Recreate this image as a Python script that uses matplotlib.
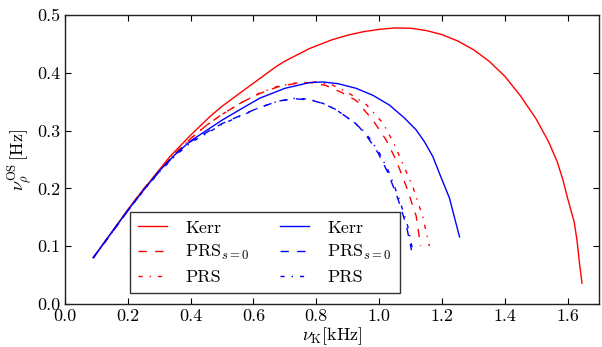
import matplotlib
matplotlib.use('Agg')
import matplotlib.pyplot as plt

# font settings (Computer Modern look)
plt.rcParams['font.family'] = 'serif'
plt.rcParams['font.serif'] = ['cmr10', 'DejaVu Serif']
plt.rcParams['mathtext.fontset'] = 'cm'
plt.rcParams['axes.formatter.use_mathtext'] = True
plt.rcParams['axes.unicode_minus'] = False

# data
kerr_red_x = [0.09, 0.15, 0.2, 0.228, 0.3, 0.334, 0.4, 0.461, 0.5, 0.55, 0.6, 0.673, 0.7,
              0.779, 0.85, 0.9, 0.95, 1.0, 1.05, 1.1, 1.15, 1.2, 1.25, 1.3, 1.35, 1.4,
              1.45, 1.5, 1.54, 1.567, 1.585, 1.599, 1.621, 1.63, 1.638, 1.646]
kerr_red_y = [0.08, 0.125, 0.163, 0.183, 0.232, 0.255, 0.292, 0.324, 0.342, 0.362, 0.382,
              0.411, 0.42, 0.442, 0.457, 0.465, 0.471, 0.475, 0.4775, 0.477, 0.473, 0.466,
              0.455, 0.44, 0.42, 0.394, 0.36, 0.32, 0.28, 0.246, 0.215, 0.185, 0.142,
              0.11, 0.07, 0.036]

prs0_red_x = [0.09, 0.15, 0.2, 0.25, 0.3, 0.35, 0.4, 0.45, 0.5, 0.567, 0.62, 0.68, 0.73,
              0.78, 0.83, 0.88, 0.927, 0.98, 1.022, 1.054, 1.086, 1.118, 1.132]
prs0_red_y = [0.08, 0.125, 0.163, 0.199, 0.231, 0.26, 0.286, 0.309, 0.328, 0.35, 0.364,
              0.376, 0.381, 0.383, 0.378, 0.366, 0.352, 0.318, 0.284, 0.249, 0.204, 0.152,
              0.10]

prs_red_x = [0.09, 0.15, 0.2, 0.25, 0.3, 0.35, 0.4, 0.45, 0.5, 0.567, 0.62, 0.68, 0.73,
             0.8, 0.85, 0.9, 0.959, 1.012, 1.045, 1.075, 1.107, 1.139, 1.16]
prs_red_y = [0.08, 0.125, 0.163, 0.199, 0.231, 0.26, 0.286, 0.309, 0.328, 0.35, 0.365,
             0.377, 0.382, 0.384, 0.379, 0.366, 0.345, 0.313, 0.28, 0.243, 0.203, 0.151,
             0.10]

kerr_blue_x = [0.09, 0.15, 0.2, 0.25, 0.3, 0.355, 0.4, 0.461, 0.5, 0.55, 0.62, 0.7, 0.779,
               0.821, 0.87, 0.927, 0.98, 1.033, 1.08, 1.118, 1.145, 1.171, 1.192, 1.224,
               1.256]
kerr_blue_y = [0.08, 0.125, 0.162, 0.197, 0.23, 0.261, 0.282, 0.304, 0.318, 0.334, 0.356,
               0.373, 0.383, 0.384, 0.381, 0.373, 0.361, 0.344, 0.322, 0.301, 0.28, 0.255,
               0.226, 0.183, 0.116]

prs0_blue_x = [0.09, 0.15, 0.2, 0.25, 0.3, 0.35, 0.4, 0.461, 0.5, 0.567, 0.62, 0.68, 0.73,
               0.78, 0.82, 0.86, 0.895, 0.935, 0.965, 0.997, 1.029, 1.061, 1.087, 1.103]
prs0_blue_y = [0.08, 0.124, 0.161, 0.197, 0.229, 0.258, 0.281, 0.3, 0.312, 0.328, 0.34,
               0.351, 0.355, 0.353, 0.347, 0.337, 0.324, 0.307, 0.287, 0.261, 0.226, 0.18,
               0.135, 0.093]

prs_blue_x = [0.09, 0.15, 0.2, 0.25, 0.3, 0.35, 0.4, 0.461, 0.5, 0.567, 0.62, 0.68, 0.736,
              0.78, 0.821, 0.86, 0.895, 0.938, 0.969, 1.001, 1.033, 1.065, 1.091, 1.107]
prs_blue_y = [0.08, 0.124, 0.161, 0.196, 0.228, 0.256, 0.279, 0.298, 0.311, 0.327, 0.34,
              0.351, 0.356, 0.354, 0.347, 0.337, 0.324, 0.307, 0.287, 0.261, 0.226, 0.18,
              0.135, 0.093]

labels = ['Kerr', r'PRS$_{s=0}$', 'PRS']

fig = plt.figure(figsize=(6.02, 3.47), dpi=100)
ax = fig.add_axes([0.108, 0.124, 0.887, 0.833])

lw = 1.0
dash = (0, (6, 6))
dashdot = (0, (3, 5, 1, 5))
ax.plot(kerr_red_x, kerr_red_y, color='red', ls='-', lw=lw, label=labels[0])
ax.plot(prs0_red_x, prs0_red_y, color='red', ls=dash, lw=lw, label=labels[1])
ax.plot(prs_red_x, prs_red_y, color='red', ls=dashdot, lw=lw, label=labels[2])
ax.plot(kerr_blue_x, kerr_blue_y, color='blue', ls='-', lw=lw, label=labels[0])
ax.plot(prs0_blue_x, prs0_blue_y, color='blue', ls=dash, lw=lw, label=labels[1])
ax.plot(prs_blue_x, prs_blue_y, color='blue', ls=dashdot, lw=lw, label=labels[2])

ax.set_xlim(0, 1.7)
ax.set_ylim(0, 0.5)
ax.set_xticks([0.0, 0.2, 0.4, 0.6, 0.8, 1.0, 1.2, 1.4, 1.6])
ax.set_xticklabels(['0.0', '0.2', '0.4', '0.6', '0.8', '1.0', '1.2', '1.4', '1.6'])
ax.set_yticks([0.0, 0.1, 0.2, 0.3, 0.4, 0.5])
ax.set_yticklabels(['0.0', '0.1', '0.2', '0.3', '0.4', '0.5'])
ax.tick_params(direction='in', top=True, right=True, length=4, width=0.8,
               labelsize=13, pad=3.5)
for s in ax.spines.values():
    s.set_linewidth(1.0)
    s.set_color('#222222')

ax.set_xlabel(r'$\nu_{\rm K}[{\rm kHz}]$', fontsize=13, labelpad=1)
ax.set_ylabel(r'$\nu_{\rho}^{\rm OS}\,[{\rm Hz}]$', fontsize=13, labelpad=2)

leg = ax.legend(ncol=2, loc='lower left', bbox_to_anchor=(0.122, 0.038),
                fontsize=13, fancybox=False, edgecolor='#333333', framealpha=1,
                handlelength=1.6, handletextpad=1.0, columnspacing=1.7,
                borderpad=0.45, labelspacing=0.4, borderaxespad=0)
leg.get_frame().set_linewidth(1.0)

plt.savefig('out.png', dpi=100)
plt.close()
